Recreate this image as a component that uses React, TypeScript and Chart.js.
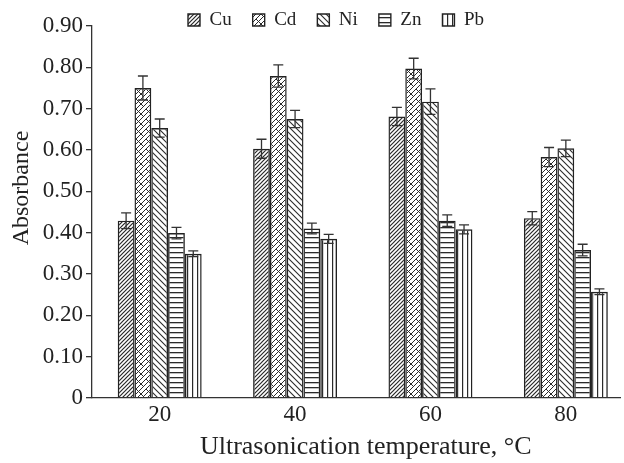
import React, { useEffect, useRef } from 'react';
import { Chart, registerables } from 'chart.js';

Chart.register(...registerables);

// ---------- data ----------
const temperatures = [20, 40, 60, 80];
const metals = ['Cu', 'Cd', 'Ni', 'Zn', 'Pb'];

const cuValues = [0.429, 0.603, 0.681, 0.435];
const cdValues = [0.75, 0.779, 0.797, 0.583];
const niValues = [0.653, 0.675, 0.717, 0.604];
const znValues = [0.399, 0.41, 0.429, 0.358];
const pbValues = [0.349, 0.385, 0.408, 0.257];

const cuErrors = [0.019, 0.023, 0.022, 0.016];
const cdErrors = [0.029, 0.027, 0.025, 0.023];
const niErrors = [0.022, 0.021, 0.031, 0.02];
const znErrors = [0.014, 0.013, 0.014, 0.014];
const pbErrors = [0.007, 0.011, 0.011, 0.007];

const yTickValues = [0, 0.1, 0.2, 0.3, 0.4, 0.5, 0.6, 0.7, 0.8, 0.9];
const yTickLabels = ['0', '0.10', '0.20', '0.30', '0.40', '0.50', '0.60', '0.70', '0.80', '0.90'];

const seriesValues = [cuValues, cdValues, niValues, znValues, pbValues];
const seriesErrors = [cuErrors, cdErrors, niErrors, znErrors, pbErrors];
const patternKinds = ['fwd', 'brick', 'back', 'horiz', 'vert'];

// ---------- style ----------
const FONT = "'Liberation Serif', 'Times New Roman', serif";
const INK = '#2a2a2a';
const LEGEND_FONT = 19;
const LEGEND_BOX = 12;
const LEGEND_PAD = 21;
const LEGEND_CENTER_Y = 20;
const LEGEND_START_X = 188;

function makePattern(kind: string): CanvasPattern | string {
  const c = document.createElement('canvas');
  let size = 5;
  if (kind === 'fwd') size = 4;
  if (kind === 'brick') size = 10;
  if (kind === 'back') size = 6;
  c.width = size;
  c.height = size;
  const ctx = c.getContext('2d');
  if (!ctx) return INK;
  ctx.strokeStyle = INK;
  ctx.fillStyle = INK;
  ctx.lineWidth = 1;
  const line = (x1: number, y1: number, x2: number, y2: number) => {
    ctx.beginPath();
    ctx.moveTo(x1, y1);
    ctx.lineTo(x2, y2);
    ctx.stroke();
  };
  if (kind === 'fwd') {
    ctx.lineWidth = 1.2;
    line(0, 4, 4, 0);
    line(-1, 1, 1, -1);
    line(3, 5, 5, 3);
  } else if (kind === 'back') {
    ctx.lineWidth = 1.1;
    line(0, 0, 6, 6);
    line(-1, 5, 1, 7);
    line(5, -1, 7, 1);
  } else if (kind === 'brick') {
    line(0, 5, 5, 0);
    line(0, 10, 10, 0);
    line(5, 10, 10, 5);
    line(-2, 2, 2, -2);
    line(8, 12, 12, 8);
    line(1, 4, 3.5, 6.5);
    line(8.5, 1.5, 11, 4);
    line(-1.5, 1.5, 1, 4);
    line(6, 9, 8.5, 11.5);
    line(6, -1, 8.5, 1.5);
  } else if (kind === 'horiz') {
    ctx.fillRect(0, 2, size, 1.3);
  } else if (kind === 'vert') {
    ctx.fillRect(2, 0, 1.2, size);
  }
  const p = ctx.createPattern(c, 'repeat');
  return p || INK;
}

const errorBarPlugin = {
  id: 'errorBars',
  afterDatasetsDraw(chart: any) {
    const ctx = chart.ctx;
    const yScale = chart.scales.y;
    ctx.save();
    ctx.strokeStyle = '#333';
    ctx.lineWidth = 1.3;
    chart.data.datasets.forEach((_ds: any, i: number) => {
      const meta = chart.getDatasetMeta(i);
      const vals = seriesValues[i];
      const errs = seriesErrors[i];
      meta.data.forEach((bar: any, j: number) => {
        const x = bar.x;
        const top = yScale.getPixelForValue(vals[j] + errs[j]);
        const bot = yScale.getPixelForValue(vals[j] - errs[j]);
        ctx.beginPath();
        ctx.moveTo(x, top);
        ctx.lineTo(x, bot);
        ctx.moveTo(x - 5, top);
        ctx.lineTo(x + 5, top);
        ctx.moveTo(x - 5, bot);
        ctx.lineTo(x + 5, bot);
        ctx.stroke();
      });
    });
    ctx.restore();
  },
};

const legendPlacementPlugin = {
  id: 'legendPlacement',
  afterLayout(chart: any) {
    const lg = chart.legend;
    if (!lg) return;
    const itemH = Math.max(LEGEND_FONT, LEGEND_BOX);
    const desiredTop = LEGEND_CENTER_Y - LEGEND_PAD - itemH / 2;
    const dy = desiredTop - lg.top;
    lg.top += dy;
    lg.bottom += dy;
    const lw = lg.lineWidths ? lg.lineWidths[0] : 0;
    const cx = (lg.left + LEGEND_PAD + lg.right - lw) / 2;
    const dx = LEGEND_START_X - cx;
    lg.left += dx;
    lg.right += dx;
  },
};

export default function App() {
  const canvasRef = useRef<HTMLCanvasElement | null>(null);

  useEffect(() => {
    const canvas = canvasRef.current;
    if (!canvas) return;

    const datasets = metals.map((name, i) => ({
      label: name,
      data: temperatures.map((t, j) => ({ x: t, y: seriesValues[i][j] })),
      backgroundColor: makePattern(patternKinds[i]),
      borderColor: '#222',
      borderWidth: 1.4,
      categoryPercentage: 0.62,
      barPercentage: 1,
    }));

    const chart = new Chart(canvas, {
      type: 'bar',
      data: { datasets } as any,
      plugins: [errorBarPlugin, legendPlacementPlugin],
      options: {
        responsive: false,
        animation: false,
        events: [],
        layout: { padding: { top: 26 - (Math.max(LEGEND_FONT, LEGEND_BOX) + LEGEND_PAD + 10), right: 4, bottom: 0, left: 0 } },
        plugins: {
          tooltip: { enabled: false },
          legend: {
            display: true,
            position: 'top',
            align: 'center',
            labels: {
              font: { family: FONT, size: LEGEND_FONT },
              color: '#222',
              boxWidth: LEGEND_BOX,
              boxHeight: LEGEND_BOX,
              padding: LEGEND_PAD,
            },
          },
        },
        scales: {
          x: {
            type: 'linear',
            min: 10,
            max: 88,
            offset: false,
            afterBuildTicks: (s: any) => {
              s.ticks = temperatures.map((v) => ({ value: v }));
            },
            afterFit: (s: any) => {
              s.height = 65;
            },
            ticks: {
              autoSkip: false,
              maxRotation: 0,
              padding: 3,
              color: '#222',
              font: { family: FONT, size: 23 },
              callback: (v: any) => String(v),
            },
            grid: { display: true, drawOnChartArea: false, drawTicks: false, offset: false },
            border: { display: true, color: '#333', width: 1.3 },
            title: {
              display: true,
              text: '   Ultrasonication temperature, °C',
              color: '#222',
              font: { family: FONT, size: 26 },
              padding: { top: 0, bottom: 0 },
            },
          },
          y: {
            min: 0,
            max: 0.9,
            afterBuildTicks: (s: any) => {
              s.ticks = yTickValues.map((v) => ({ value: v }));
            },
            afterFit: (s: any) => {
              s.width = 92;
            },
            ticks: {
              padding: 3,
              color: '#222',
              font: { family: FONT, size: 23 },
              callback: (_v: any, i: number) => yTickLabels[i],
            },
            grid: { display: true, drawOnChartArea: false, drawTicks: true, tickLength: 6, color: '#333', lineWidth: 1.3 },
            border: { display: true, color: '#333', width: 1.3 },
            title: {
              display: true,
              text: '        Absorbance',
              color: '#222',
              font: { family: FONT, size: 24 },
              padding: { top: 7, bottom: 0 },
            },
          },
        },
      } as any,
    });

    return () => chart.destroy();
  }, []);

  return (
    <div style={{ position: 'fixed', left: 0, top: 0, width: 624, height: 463, background: '#fff' }}>
      <canvas ref={canvasRef} width={624} height={463} style={{ display: 'block' }} />
    </div>
  );
}
